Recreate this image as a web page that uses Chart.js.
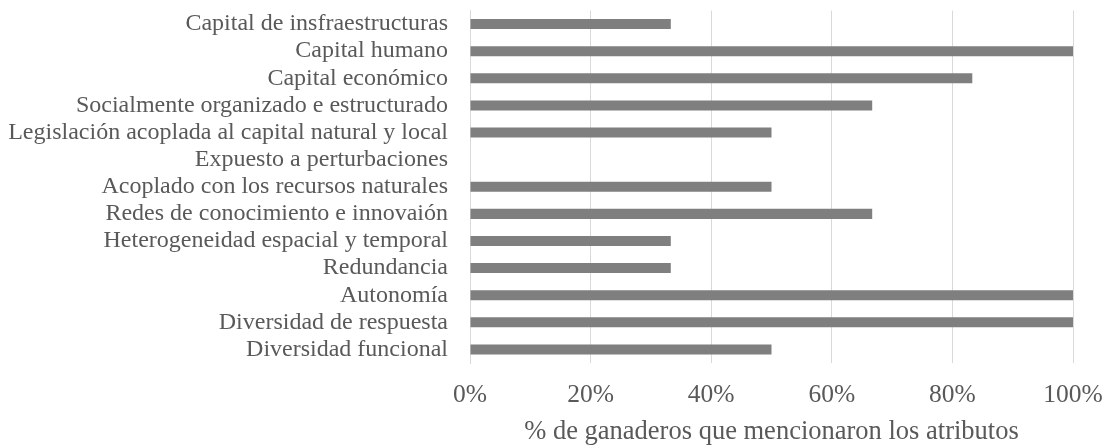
<!DOCTYPE html>
<html>
<head>
<meta charset="utf-8">
<script src="https://cdn.jsdelivr.net/npm/chart.js@4"></script>
<style>
  html, body { margin: 0; padding: 0; background: #fff; }
  #wrap { width: 1110px; height: 448px; }
</style>
</head>
<body>
<div id="wrap"><canvas id="c"></canvas></div>
<script>
// attributes mentioned by ranchers, top to bottom
const categories = [
    'Capital de insfraestructuras',
    'Capital humano',
    'Capital económico',
    'Socialmente organizado e estructurado',
    'Legislación acoplada al capital natural y local',
    'Expuesto a perturbaciones',
    'Acoplado con los recursos naturales',
    'Redes de conocimiento e innovaión',
    'Heterogeneidad espacial y temporal',
    'Redundancia',
    'Autonomía',
    'Diversidad de respuesta',
    'Diversidad funcional'
];
const shares = [33.3, 100, 83.3, 66.7, 50, 0, 50, 66.7, 33.3, 33.3, 100, 100, 50];
const xTicks = [0, 20, 40, 60, 80, 100];
const axisTitle = '% de ganaderos que mencionaron los atributos';

const font = "'Liberation Serif', 'Times New Roman', serif";
const textColor = '#595959';

new Chart(document.getElementById('c'), {
    type: 'bar',
    data: {
        labels: categories,
        datasets: [{
            data: shares,
            backgroundColor: '#7f7f7f',
            borderWidth: 0,
            barPercentage: 0.37,
            categoryPercentage: 1
        }]
    },
    options: {
        indexAxis: 'y',
        responsive: true,
        maintainAspectRatio: false,
        animation: false,
        layout: { padding: { top: 10.5, right: 37, bottom: 0, left: 0 } },
        plugins: {
            legend: { display: false },
            tooltip: { enabled: false }
        },
        scales: {
            x: {
                min: 0,
                max: 100,
                afterBuildTicks: s => { s.ticks = xTicks.map(v => ({ value: v })); },
                afterFit: s => {
                    s.height = 85;
                    s.paddingLeft = 0;
                    s.paddingRight = 0;
                },
                ticks: {
                    callback: v => v + '%',
                    color: textColor,
                    font: { family: font, size: 25.5 },
                    padding: 17
                },
                grid: { color: '#d9d9d9', lineWidth: 1, drawTicks: false },
                border: { display: false },
                title: {
                    display: true,
                    text: axisTitle,
                    color: textColor,
                    font: { family: font, size: 26.5 },
                    padding: { top: 0, bottom: 0 }
                }
            },
            y: {
                afterFit: s => {
                    s.width = 470;
                    s.paddingTop = 0;
                    s.paddingBottom = 0;
                },
                ticks: {
                    color: textColor,
                    font: { family: font, size: 24 },
                    padding: 22,
                    autoSkip: false
                },
                grid: { display: false, drawTicks: false },
                border: { display: true, color: '#d9d9d9', width: 1 }
            }
        }
    }
});
</script>
</body>
</html>
